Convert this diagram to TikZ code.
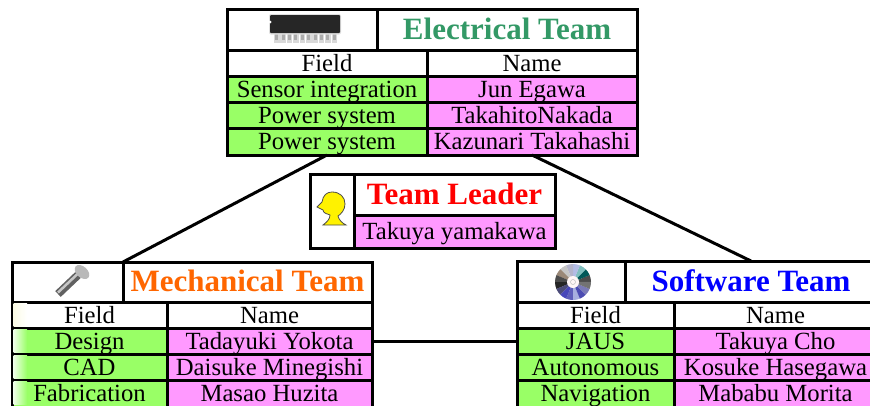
\documentclass[tikz,border=0pt]{standalone}
\usepackage{fontspec}
\setmainfont{Liberation Serif}
\definecolor{fieldgreen}{HTML}{99FF66}
\definecolor{namepink}{HTML}{FF99FF}
\definecolor{elecgreen}{HTML}{339966}
\definecolor{mechorange}{HTML}{FF6600}
\tikzset{
    cellbox/.style={draw,line width=3pt,inner sep=0pt,outer sep=0pt,align=center,
        font=\fontsize{24.7}{24.7}\selectfont,text height=19pt,text depth=3pt},
    fieldcell/.style={cellbox,fill=fieldgreen},
    namecell/.style={cellbox,fill=namepink},
    lastrow/.style={minimum height=28pt,text height=16pt,text depth=1pt},
    titlecell/.style={cellbox,font=\fontsize{31}{31}\selectfont\bfseries,text height=23pt,text depth=4pt},
    conn/.style={line width=3pt}
}
\begin{document}
\begin{tikzpicture}[x=1pt,y=-1pt]
    \useasboundingbox (0,0) rectangle (870,405);
    % electrical team
    \node[cellbox,minimum width=150pt,minimum height=41pt] (elecIcon) at (302,29.5) {};
    \node[titlecell,minimum width=260pt,minimum height=41pt,text=elecgreen] (elecTitle) at (507,29.5) {Electrical Team};
    \node[cellbox,minimum width=200pt,minimum height=26pt] (elecField) at (327,63) {Field};
    \node[cellbox,minimum width=210pt,minimum height=26pt] (elecName) at (532,63) {Name};
    \node[fieldcell,minimum width=200pt,minimum height=26pt] (elecFieldA) at (327,89) {Sensor integration};
    \node[namecell,minimum width=210pt,minimum height=26pt] (elecNameA) at (532,89) {Jun Egawa};
    \node[fieldcell,minimum width=200pt,minimum height=26pt] (elecFieldB) at (327,115) {Power system};
    \node[namecell,minimum width=210pt,minimum height=26pt] (elecNameB) at (532,115) {TakahitoNakada};
    \node[fieldcell,minimum width=200pt,minimum height=27pt] (elecFieldC) at (327,141.5) {Power system};
    \node[namecell,minimum width=210pt,minimum height=27pt] (elecNameC) at (532,141.5) {Kazunari Takahashi};
    % team leader
    \node[cellbox,minimum width=44pt,minimum height=74pt] (leadIcon) at (332,211) {};
    \node[titlecell,minimum width=201pt,minimum height=41pt,text=red] (leadTitle) at (454.5,194.5) {Team Leader};
    \node[namecell,minimum width=201pt,minimum height=33pt] (leadName) at (454.5,231.5) {Takuya yamakawa};
    % mechanical team
    \node[cellbox,minimum width=111pt,minimum height=40pt] (mechIcon) at (67.5,282) {};
    \node[titlecell,minimum width=249pt,minimum height=40pt,text=mechorange] (mechTitle) at (247.5,282) {Mechanical Team};
    \node[cellbox,minimum width=155pt,minimum height=26pt] (mechField) at (89.5,315) {Field};
    \node[cellbox,minimum width=205pt,minimum height=26pt] (mechName) at (269.5,315) {Name};
    \node[fieldcell,minimum width=155pt,minimum height=26pt] (mechFieldA) at (89.5,341) {Design};
    \node[namecell,minimum width=205pt,minimum height=26pt] (mechNameA) at (269.5,341) {Tadayuki Yokota};
    \node[fieldcell,minimum width=155pt,minimum height=26pt] (mechFieldB) at (89.5,367) {CAD};
    \node[namecell,minimum width=205pt,minimum height=26pt] (mechNameB) at (269.5,367) {Daisuke Minegishi};
    \node[fieldcell,lastrow,minimum width=155pt] (mechFieldC) at (89.5,394) {Fabrication};
    \node[namecell,lastrow,minimum width=205pt] (mechNameC) at (269.5,394) {Masao Huzita};
    % software team
    \node[cellbox,minimum width=108pt,minimum height=41pt] (softIcon) at (571,281.5) {};
    \node[titlecell,minimum width=252pt,minimum height=41pt,text=blue] (softTitle) at (751,281.5) {Software Team};
    \node[cellbox,minimum width=157pt,minimum height=26pt] (softField) at (595.5,315) {Field};
    \node[cellbox,minimum width=203pt,minimum height=26pt] (softName) at (775.5,315) {Name};
    \node[fieldcell,minimum width=157pt,minimum height=26pt] (softFieldA) at (595.5,341) {JAUS};
    \node[namecell,minimum width=203pt,minimum height=26pt] (softNameA) at (775.5,341) {Takuya Cho};
    \node[fieldcell,minimum width=157pt,minimum height=26pt] (softFieldB) at (595.5,367) {Autonomous};
    \node[namecell,minimum width=203pt,minimum height=26pt] (softNameB) at (775.5,367) {Kosuke Hasegawa};
    \node[fieldcell,lastrow,minimum width=157pt] (softFieldC) at (595.5,394) {Navigation};
    \node[namecell,lastrow,minimum width=203pt] (softNameC) at (775.5,394) {Mababu Morita};
    % connectors
    \draw[conn] (elecFieldC.south) -- (mechIcon.north east);
    \draw[conn] (elecNameC.south) -- (softTitle.north);
    \draw[conn] (mechNameA.east) -- (softFieldA.west);
    % pale edge on the left of the mechanical table
    \shade[left color=black!12!yellow!10,right color=white] (13.5,303.5) rectangle (27,326.5);
    \foreach \rowy in {329.5,355.5,381.5}
        \shade[left color=white!85!fieldgreen,right color=fieldgreen] (13.5,\rowy) rectangle (27,\rowy+23);
    % chip
    \foreach \i in {0,...,9}
        \fill[gray!30] (274+6.4*\i,32) rectangle (279.5+6.4*\i,42.5);
    \foreach \i in {0,...,9}
        \fill[gray!65] (275.2+6.4*\i,32) rectangle (278.2+6.4*\i,40);
    \fill[black!12,rounded corners=2pt] (269,14) rectangle (341,34.5);
    \fill[black!85,rounded corners=1pt] (270,15) rectangle (340,33);
    \fill[white] (270,22) circle (1.5pt);
    % bolt
    \draw[black!62,line width=8pt] (58,294) -- (78,275);
    \draw[gray!45,line width=2.5pt] (58,292.5) -- (77,274.5);
    \begin{scope}[shift={(82,272)},rotate=-42,x=1pt,y=1pt]
        \fill[gray!55] (0,0) ellipse (8.5pt and 5.5pt);
    \end{scope}
    % disc
    \begin{scope}[shift={(573,282)},x=1pt,y=1pt]
        \foreach \ang/\tone in {0/black!70,22.5/teal!70!black,45/teal!50,67.5/cyan!35!blue!30,90/blue!18!gray!50,112.5/gray!45,135/brown!45!black!60,157.5/black!70,180/black!85,202.5/blue!25!black!70,225/blue!45!gray,247.5/blue!40!gray!90,270/cyan!30!blue!35,292.5/blue!40!gray,315/blue!30!gray!80,337.5/black!55}
            \fill[\tone] (0,0) -- (\ang:18) arc (\ang:\ang+23:18) -- cycle;
        \fill[white!85!pink] (0,0) circle (6);
        \draw[gray!50,line width=0.5pt] (0,0) circle (2.5);
    \end{scope}
    % leader head
    \draw[fill=yellow,draw=black!70,line width=0.8pt] (322,202) .. controls (323,195) and (327,192) .. (332,192)
        .. controls (340,192) and (345,197) .. (345,204) .. controls (345,210) and (341,214) .. (338,216)
        .. controls (339,220) and (342,223) .. (346,225) -- (323,225)
        .. controls (327,222) and (330,219) .. (330,215) .. controls (327,214) and (323,213) .. (323,210)
        -- (317,207) -- cycle;
\end{tikzpicture}
\end{document}
